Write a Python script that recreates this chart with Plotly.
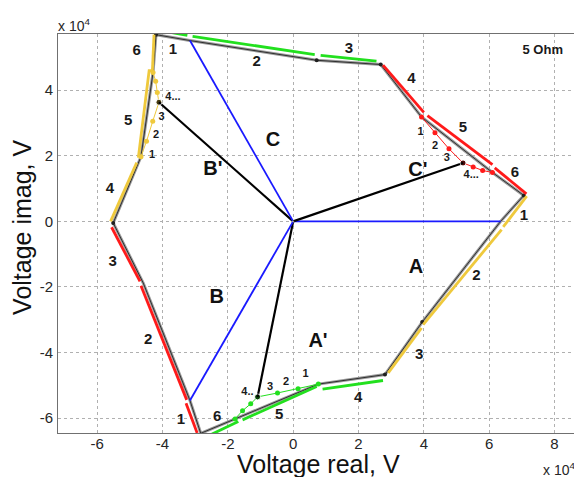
"""Fault voltage trajectory in the complex plane, 5 Ohm case (Plotly, HTML)."""

import plotly.graph_objects as go

# all voltages in units of 1e4 V (the axes carry the "x 10^4" multiplier)

# outer trajectory (gray), closed polygon
OUT_X = [-4.20, -3.16, 0.72, 2.68, 3.93, 6.10, 7.06, 6.35, 3.95, 2.81,
         0.77, -1.78, -2.83, -3.16, -4.59, -5.51, -4.66, -4.29, -4.20]
OUT_Y = [5.69, 5.51, 4.91, 4.78, 3.18, 1.49, 0.79, 0.00, -3.07, -4.67,
         -4.96, -6.02, -6.46, -5.46, -1.88, -0.05, 1.97, 4.54, 5.69]
VERT_X = [-4.20, 0.72, 2.68, 7.06, 3.95, 2.81, -2.83, -5.51]
VERT_Y = [5.69, 4.91, 4.78, 0.79, -3.07, -4.67, -6.46, -0.05]

# phasors: balanced (blue) and faulted (black)
PHASE = ["A", "B", "C"]
BAL_X = [6.35, -3.16, -3.16]
BAL_Y = [0.00, -5.46, 5.51]
FLT_X = [-1.09, -4.11, 5.20]
FLT_Y = [-5.35, 3.63, 1.78]

# inner step paths towards the faulted phasor tips
RED_PATH_X = [3.93, 4.34, 4.77, 5.20, 5.51, 5.80, 6.10]
RED_PATH_Y = [3.18, 2.70, 2.21, 1.78, 1.66, 1.55, 1.49]
YEL_PATH_X = [-4.66, -4.49, -4.30, -4.11, -4.16, -4.21, -4.29]
YEL_PATH_Y = [1.97, 2.44, 3.05, 3.63, 3.93, 4.27, 4.54]
GRN_PATH_X = [0.77, 0.15, -0.48, -1.09, -1.30, -1.55, -1.78]
GRN_PATH_Y = [-4.96, -5.10, -5.23, -5.35, -5.56, -5.77, -6.02]

# thick coloured segments 1..6 along the outline (None = gap)
GRN_SEG_X = [-4.11, -3.24, None, -3.08, 0.66, None, 0.84, 2.55, None,
             2.75, 0.90, None, 0.72, -1.55, None, -1.68, -2.67]
GRN_SEG_Y = [5.82, 5.67, None, 5.64, 5.08, None, 5.06, 4.88, None,
             -4.85, -5.11, None, -5.03, -6.05, None, -6.10, -6.57]
RED_SEG_X = [2.75, 4.00, None, 4.11, 6.10, None, 6.17, 7.14, None,
             -3.28, -2.94, None, -4.66, -3.26, None, -5.56, -4.69]
RED_SEG_Y = [4.76, 3.32, None, 3.22, 1.73, None, 1.63, 0.84, None,
             -5.54, -6.45, None, -1.96, -5.44, None, -0.18, -1.83]
YEL_SEG_X = [7.15, 6.43, None, 6.38, 3.98, None, 3.93, 2.91, None,
             -5.59, -4.79, None, -4.74, -4.41, -4.31, None, -4.31, -4.26]
YEL_SEG_Y = [0.77, -0.17, None, -0.25, -3.15, None, -3.25, -4.62, None,
             0.00, 1.79, None, 1.94, 4.59, 4.59, None, 4.59, 5.69]

SEG_TEXT = ["1", "2", "3", "4", "5", "6",
            "1", "2", "3", "4", "5", "6",
            "1", "2", "3", "4", "5", "6"]
SEG_X = [-3.68, -1.12, 1.71, 3.62, 5.20, 6.79,
         7.06, 5.61, 3.86, 1.99, -0.43, -2.33,
         -3.44, -4.44, -5.53, -5.61, -5.05, -4.79]
SEG_Y = [5.21, 4.86, 5.26, 4.32, 2.85, 1.48,
         0.17, -1.68, -4.09, -5.38, -5.92, -5.96,
         -6.07, -3.61, -1.25, 0.97, 3.05, 5.18]

STEP_TEXT = ["1", "2", "3", "4...", "1", "2", "3", "4...", "1", "2", "3", "4.."]
STEP_X = [3.90, 4.34, 4.70, 5.45, -4.32, -4.20, -4.03, -3.68, 0.38, -0.22, -0.71, -1.40]
STEP_Y = [2.71, 2.29, 1.93, 1.42, 2.03, 2.61, 3.18, 3.79, -4.67, -4.91, -5.06, -5.21]

PH_TEXT = ["A", "B", "C", "A'", "B'", "C'"]
PH_X = [3.76, -2.34, -0.62, 0.76, -2.46, 3.82]
PH_Y = [-1.41, -2.33, 2.46, -3.67, 1.58, 1.52]

X_TICKS = [-6, -4, -2, 0, 2, 4, 6, 8]
Y_TICKS = [-6, -4, -2, 0, 2, 4]

GREEN = "#22e01e"
RED = "#ff1a1a"
YELLOW = "#efc93c"
FONT = "Liberation Sans, Arial, sans-serif"


def bold(items):
    return [f"<b>{t}</b>" for t in items]


fig = go.Figure()

# outline: gray halo with a thin dark core
fig.add_trace(go.Scatter(x=OUT_X, y=OUT_Y, mode="lines",
                         line=dict(color="#9a9a9a", width=3)))
fig.add_trace(go.Scatter(x=OUT_X, y=OUT_Y, mode="lines",
                         line=dict(color="#303030", width=1)))
fig.add_trace(go.Scatter(x=VERT_X, y=VERT_Y, mode="markers",
                         marker=dict(color="#202020", size=4)))

for xs, ys, col in [(GRN_SEG_X, GRN_SEG_Y, GREEN), (RED_SEG_X, RED_SEG_Y, RED),
                    (YEL_SEG_X, YEL_SEG_Y, YELLOW)]:
    fig.add_trace(go.Scatter(x=xs, y=ys, mode="lines", connectgaps=False,
                             line=dict(color=col, width=2.8)))

for xs, ys, col in [(RED_PATH_X, RED_PATH_Y, RED), (YEL_PATH_X, YEL_PATH_Y, YELLOW),
                    (GRN_PATH_X, GRN_PATH_Y, GREEN)]:
    fig.add_trace(go.Scatter(x=xs, y=ys, mode="lines+markers",
                             line=dict(color=col, width=1),
                             marker=dict(color=col, size=5)))

for i in range(len(PHASE)):
    fig.add_trace(go.Scatter(x=[0, BAL_X[i]], y=[0, BAL_Y[i]], mode="lines",
                             line=dict(color="#1a1aff", width=1.8)))
    fig.add_trace(go.Scatter(x=[0, FLT_X[i]], y=[0, FLT_Y[i]], mode="lines+markers",
                             line=dict(color="black", width=2.2),
                             marker=dict(color="black", size=[1, 6])))

fig.add_trace(go.Scatter(x=SEG_X, y=SEG_Y, mode="text", text=bold(SEG_TEXT),
                         cliponaxis=False,
                         textfont=dict(family=FONT, size=15, color="#1a1a1a")))
fig.add_trace(go.Scatter(x=STEP_X, y=STEP_Y, mode="text", text=bold(STEP_TEXT),
                         cliponaxis=False,
                         textfont=dict(family=FONT, size=11, color="#1a1a1a")))
fig.add_trace(go.Scatter(x=PH_X, y=PH_Y, mode="text", text=bold(PH_TEXT),
                         cliponaxis=False,
                         textfont=dict(family=FONT, size=20, color="#111111")))
fig.add_trace(go.Scatter(x=[7.64], y=[5.20], mode="text", text=["<b>5 Ohm</b>"],
                         cliponaxis=False,
                         textfont=dict(family=FONT, size=13, color="#1a1a1a")))

axis_common = dict(showgrid=True, gridcolor="#b0b0b0", griddash="dot", gridwidth=1,
                   zeroline=False, showline=True, mirror=True, linecolor="#707070",
                   linewidth=1, ticks="", tickfont=dict(family=FONT, size=15, color="#262626"))

fig.update_xaxes(range=[-7.2, 8.75], tickvals=X_TICKS,
                 ticktext=[str(v) for v in X_TICKS], ticklabelstandoff=-3, **axis_common)
fig.update_yaxes(range=[-6.45, 5.71], tickvals=Y_TICKS,
                 ticktext=[str(v) for v in Y_TICKS], ticklabelstandoff=1, **axis_common)

# the page body keeps its default 8px margin, so the figure is sized to fit
fig.update_layout(
    width=574, height=469,
    margin=dict(l=50, r=3, t=26, b=44),
    paper_bgcolor="white", plot_bgcolor="white",
    showlegend=False,
    annotations=[
        dict(text="Voltage real, V", x=0.5, xref="paper", y=-0.078, yref="paper",
             yanchor="middle", showarrow=False,
             font=dict(family=FONT, size=25, color="#111111")),
        dict(text="Voltage imag, V", x=0.0, xref="paper", xanchor="center", xshift=-36,
             y=-0.2, yref="y", textangle=-90, showarrow=False,
             font=dict(family=FONT, size=25, color="#111111")),
        dict(text="x 10<sup>4</sup>", x=0, xref="paper", xanchor="left", xshift=-2,
             y=1.0, yref="paper", yanchor="bottom", yshift=-2, showarrow=False,
             font=dict(family=FONT, size=14, color="#262626")),
        dict(text="x 10<sup>4</sup>", x=1.0, xref="paper", xanchor="right", xshift=-2,
             y=-0.09, yref="paper", yanchor="middle", showarrow=False,
             font=dict(family=FONT, size=14, color="#262626")),
    ],
)

fig.write_html("out.html")
